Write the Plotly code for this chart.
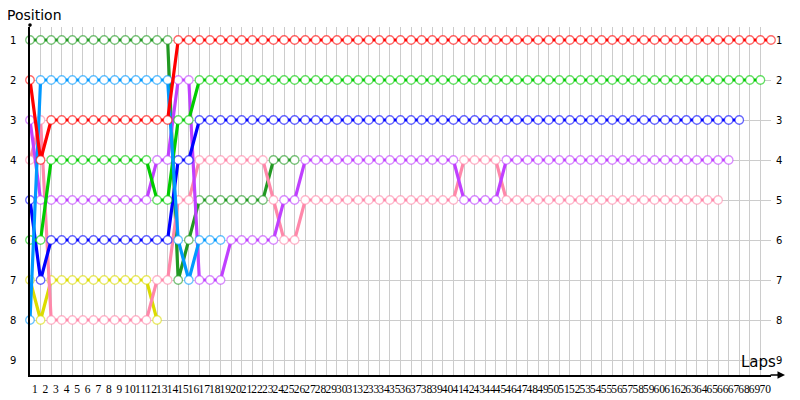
import plotly.graph_objects as go

laps = list(range(71))
tick_text = [str(n) for n in range(1, 71)]
positions = [1, 2, 3, 4, 5, 6, 7, 8, 9]

red = [2, 4, 3, 3, 3, 3, 3, 3, 3, 3, 3, 3, 3, 3,
       1, 1, 1, 1, 1, 1, 1, 1, 1, 1, 1, 1, 1, 1, 1, 1, 1, 1, 1, 1, 1, 1, 1, 1, 1, 1,
       1, 1, 1, 1, 1, 1, 1, 1, 1, 1, 1, 1, 1, 1, 1, 1, 1, 1, 1, 1, 1, 1, 1, 1, 1, 1,
       1, 1, 1, 1, 1]
bright_green = [6, 6, 4, 4, 4, 4, 4, 4, 4, 4, 4, 4, 5, 5, 3, 3,
                2, 2, 2, 2, 2, 2, 2, 2, 2, 2, 2, 2, 2, 2, 2, 2, 2, 2, 2, 2, 2, 2, 2, 2,
                2, 2, 2, 2, 2, 2, 2, 2, 2, 2, 2, 2, 2, 2, 2, 2, 2, 2, 2, 2, 2, 2, 2, 2,
                2, 2, 2, 2, 2, 2]
blue = [5, 7, 6, 6, 6, 6, 6, 6, 6, 6, 6, 6, 6, 6, 4, 4,
        3, 3, 3, 3, 3, 3, 3, 3, 3, 3, 3, 3, 3, 3, 3, 3, 3, 3, 3, 3, 3, 3, 3, 3,
        3, 3, 3, 3, 3, 3, 3, 3, 3, 3, 3, 3, 3, 3, 3, 3, 3, 3, 3, 3, 3, 3, 3, 3,
        3, 3, 3, 3]
purple = [3, 5, 5, 5, 5, 5, 5, 5, 5, 5, 5, 5, 4, 4, 2, 2, 7, 7, 7, 6, 6, 6, 6, 6,
          5, 5, 4, 4, 4, 4, 4, 4, 4, 4, 4, 4, 4, 4, 4, 4, 4, 5, 5, 5, 5,
          4, 4, 4, 4, 4, 4, 4, 4, 4, 4, 4, 4, 4, 4, 4, 4, 4, 4, 4, 4, 4, 4]
pink = [4, 3, 8, 8, 8, 8, 8, 8, 8, 8, 8, 8, 7, 7, 5, 5, 4, 4, 4, 4, 4, 4, 4, 5,
        6, 6, 5, 5, 5, 5, 5, 5, 5, 5, 5, 5, 5, 5, 5, 5, 5, 4, 4, 4, 4,
        5, 5, 5, 5, 5, 5, 5, 5, 5, 5, 5, 5, 5, 5, 5, 5, 5, 5, 5, 5, 5]
dark_green = [1, 1, 1, 1, 1, 1, 1, 1, 1, 1, 1, 1, 1, 1, 7, 6, 5, 5, 5, 5, 5, 5, 5, 4, 4, 4]
light_blue = [8, 2, 2, 2, 2, 2, 2, 2, 2, 2, 2, 2, 2, 2, 6, 7, 6, 6, 6]
yellow = [7, 8, 7, 7, 7, 7, 7, 7, 7, 7, 7, 7, 8]

series = [
    ("yellow", yellow, "#DCDC00", "rgba(220,220,0,0.6)"),
    ("dark green", dark_green, "#229922", "rgba(34,153,34,0.6)"),
    ("pink", pink, "#FF88AA", "rgba(255,136,170,0.6)"),
    ("purple", purple, "#C040FF", "rgba(192,64,255,0.6)"),
    ("blue", blue, "#0000FF", "rgba(0,0,255,0.6)"),
    ("bright green", bright_green, "#00CC00", "rgba(0,204,0,0.6)"),
    ("light blue", light_blue, "#0099FF", "rgba(0,153,255,0.6)"),
    ("red", red, "#FF0000", "rgba(255,0,0,0.6)"),
]

fig = go.Figure()
for i, (name, vals, color, edge) in enumerate(series):
    last = i == len(series) - 1
    fig.add_trace(go.Scatter(
        x=laps[:len(vals)], y=vals, name=name, mode="lines+markers",
        line=dict(color=color, width=3.2),
        marker=dict(size=8.5, color="white", line=dict(color=edge, width=1.3)),
        xaxis="x2" if last else "x", yaxis="y2" if last else "y",
        cliponaxis=False, showlegend=False, hoverinfo="skip"))

grid = "#CCCCCC"
yr = [9.375, 0.675]
tick_pos = [i + 0.45 for i in range(70)]

# page body has an 8px default margin, so the figure is offset by 8px
fig.update_layout(
    width=800, height=400,
    margin=dict(l=22, r=37, t=19, b=33, autoexpand=False),
    paper_bgcolor="white", plot_bgcolor="white",
    showlegend=False,
    xaxis=dict(range=[0, 70], tick0=0, dtick=1, showgrid=True, gridcolor=grid, gridwidth=1,
               showticklabels=False, zeroline=False, showline=True, linecolor="black",
               linewidth=1.5, ticks="", automargin=False),
    xaxis2=dict(overlaying="x", anchor="y2", side="bottom", range=[0, 70],
                tickmode="array", tickvals=tick_pos, ticktext=tick_text,
                showgrid=False, zeroline=False, showline=False, ticks="",
                tickangle=0, automargin=False, ticklabelstandoff=5,
                tickfont=dict(family="Liberation Serif", size=11.5, color="black")),
    yaxis=dict(range=yr, tickmode="array", tickvals=positions,
               ticktext=[str(p) for p in positions], showgrid=True, gridcolor=grid,
               zeroline=False, showline=True, linecolor="black", linewidth=1.5, ticks="",
               ticklabelstandoff=10, automargin=False,
               tickfont=dict(family="DejaVu Sans", size=10, color="black")),
    yaxis2=dict(overlaying="y", anchor="x2", side="right", range=yr, tickmode="array",
                tickvals=positions, ticktext=[str(p) for p in positions],
                showgrid=False, zeroline=False, showline=False, ticks="",
                ticklabelstandoff=4, automargin=False,
                tickfont=dict(family="DejaVu Sans", size=10, color="black")),
    annotations=[
        dict(text="Position", xref="paper", yref="paper", x=-25 / 741, y=1.0345,
             xanchor="left", yanchor="middle", showarrow=False,
             font=dict(family="DejaVu Sans", size=14, color="black")),
        dict(text="Laps", xref="paper", yref="paper", x=(758 - 30) / 741, y=13 / 348,
             xanchor="center", yanchor="middle", showarrow=False,
             font=dict(family="DejaVu Sans", size=15, color="black")),
        dict(text="", xref="paper", yref="paper", x=(785 - 30) / 741, y=0,
             ax=-16, ay=0, showarrow=True, arrowhead=2, arrowsize=1,
             arrowwidth=1.5, arrowcolor="black"),
        dict(text="", xref="paper", yref="paper", x=0, y=1 + 2 / 348,
             ax=0, ay=3, showarrow=True, arrowhead=6, arrowsize=0.6,
             arrowwidth=1.5, arrowcolor="black"),
    ],
)

fig.write_html("out.html")
